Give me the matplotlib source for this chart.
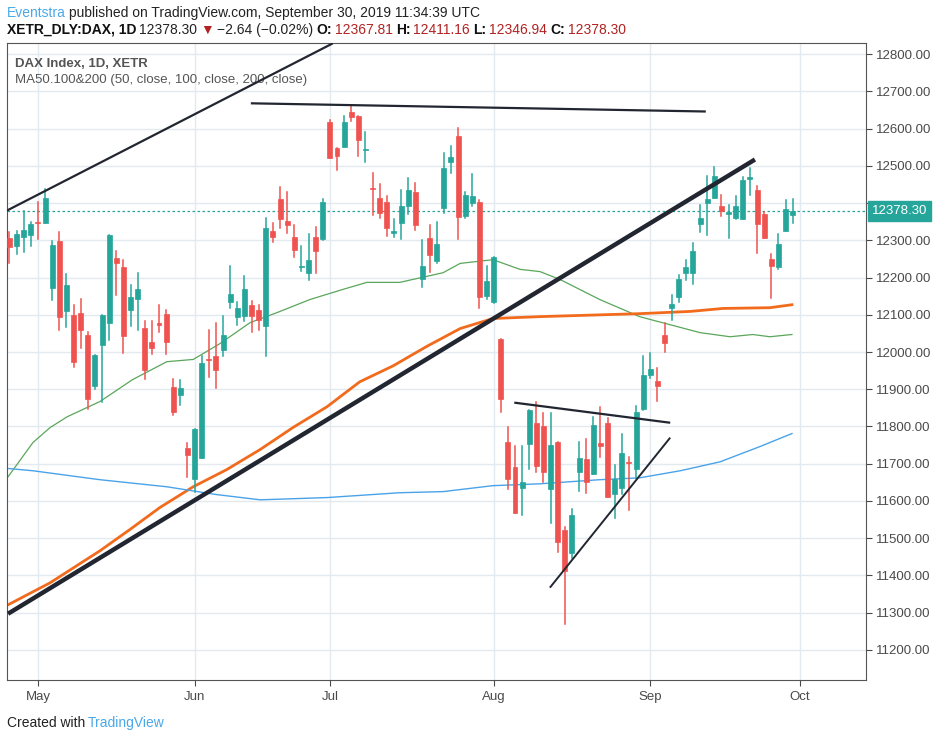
import numpy as np
import matplotlib
matplotlib.use("Agg")
import matplotlib.pyplot as plt
from matplotlib.patches import Rectangle

plt.rcParams["font.family"] = "Liberation Sans"

# daily OHLC, XETR DAX, 25 Apr 2019 .. 30 Sep 2019 (trading-day index 0..110)
opens = [12306, 12284, 12308, 12313, 12350, 12346, 12171, 12299, 12109, 12100,
         12106, 12047, 11908, 12018, 12077, 12253, 12229, 12112, 12142, 12065,
         12028, 12079, 12103, 11907, 11884, 11743, 11660, 11714, 11982, 11990,
         12005, 12134, 12093, 12096, 12125, 12114, 12069, 12324, 12412, 12353,
         12310, 12229, 12212, 12310, 12303, 12619, 12549, 12550, 12646, 12635,
         12543, 12439, 12415, 12404, 12319, 12346, 12392, 12431, 12196, 12305,
         12244, 12386, 12510, 12579, 12365, 12400, 12402, 12150, 12134, 12036,
         11759, 11692, 11636, 11752, 11808, 11802, 11631, 11759, 11523, 11459,
         11679, 11713, 11671, 11756, 11808, 11618, 11636, 11705, 11685, 11848,
         11939, 11923, 12047, 12118, 12147, 12211, 12211, 12343, 12399, 12413,
         12391, 12371, 12361, 12356, 12464, 12434, 12372, 12251, 12227, 12326,
         12367.81]
highs = [12322, 12326, 12378, 12348, 12403, 12438, 12299, 12321, 12210, 12127,
         12143, 12054, 11993, 12100, 12313, 12272, 12248, 12181, 12213, 12084,
         12084, 12127, 12114, 11928, 11926, 11756, 11794, 11988, 12060, 12079,
         12098, 12231, 12134, 12204, 12138, 12127, 12361, 12347, 12442, 12429,
         12342, 12286, 12318, 12337, 12410, 12622, 12549, 12635, 12661, 12635,
         12591, 12480, 12450, 12420, 12356, 12436, 12468, 12455, 12300, 12342,
         12348, 12534, 12552, 12603, 12431, 12477, 12407, 12230, 12256, 12036,
         11799, 11748, 11748, 11845, 11867, 11837, 11837, 11759, 11531, 11579,
         11759, 11765, 11826, 11853, 11824, 11697, 11781, 11719, 11856, 11990,
         11996, 11958, 12078, 12154, 12208, 12246, 12294, 12396, 12474, 12496,
         12423, 12396, 12418, 12469, 12493, 12445, 12377, 12262, 12316, 12407,
         12411.16]
lows = [12239, 12262, 12268, 12284, 12304, 12346, 12139, 12058, 12066, 11959,
        12012, 11847, 11900, 11865, 12031, 12152, 11996, 12069, 12058, 11928,
        11994, 12053, 11994, 11830, 11859, 11663, 11623, 11714, 11932, 11902,
        11989, 12119, 12072, 12083, 12053, 12060, 11989, 12295, 12332, 12319,
        12255, 12217, 12193, 12212, 12300, 12521, 12489, 12550, 12620, 12526,
        12510, 12368, 12360, 12311, 12308, 12303, 12370, 12327, 12174, 12214,
        12238, 12373, 12480, 12303, 12360, 12392, 12118, 12142, 12131, 11838,
        11631, 11567, 11561, 11685, 11677, 11650, 11540, 11462, 11269, 11448,
        11628, 11620, 11671, 11717, 11610, 11553, 11618, 11575, 11661, 11845,
        11931, 11869, 12001, 12085, 12134, 12193, 12182, 12322, 12314, 12413,
        12364, 12306, 12356, 12356, 12421, 12267, 12307, 12144, 12224, 12326,
        12346.94]
closes = [12281, 12318, 12329, 12345, 12346, 12414, 12288, 12094, 12181, 11972,
          12058, 11875, 11993, 12100, 12313, 12238, 12042, 12147, 12170, 11951,
          12010, 12072, 12026, 11838, 11904, 11724, 11794, 11971, 11979, 11952,
          12047, 12157, 12117, 12170, 12096, 12085, 12334, 12308, 12357, 12341,
          12274, 12231, 12248, 12271, 12402, 12521, 12526, 12619, 12631, 12569,
          12546, 12437, 12373, 12333, 12326, 12391, 12434, 12341, 12230, 12260,
          12291, 12493, 12525, 12362, 12423, 12420, 12147, 12192, 12254, 11873,
          11658, 11567, 11651, 11845, 11693, 11679, 11751, 11491, 11411, 11563,
          11716, 11650, 11805, 11747, 11610, 11660, 11730, 11701, 11840, 11939,
          11955, 11910, 12023, 12128, 12195, 12227, 12270, 12361, 12412, 12472,
          12379, 12375, 12391, 12461, 12471, 12343, 12307, 12232, 12291, 12383,
          12378.30]

# moving averages: (bar index, value)
ma50_idx = [-0.2, 3.3, 5.7, 8.1, 12.7, 17.3, 22.1, 25.8, 29.6, 33.8, 37.6, 42.2, 46.8, 50.2,
            54.8, 60.9, 63.3, 67.9, 71.7, 74.5, 77.3, 82.9, 88.5, 97.0, 101.2, 104.4, 106.8, 109.9]
ma50_val = [11665, 11757, 11797, 11826, 11867, 11926, 11974, 11980, 12023, 12079, 12106, 12141, 12168, 12187,
            12187, 12213, 12238, 12248, 12222, 12216, 12195, 12141, 12095, 12052, 12041, 12047, 12041, 12047]
ma100_idx = [-0.2, 5.7, 12.7, 16.9, 21.1, 25.8, 30.5, 35.2, 39.8, 44.6, 49.2, 53.9, 58.6, 63.3,
             67.9, 74.5, 88.5, 95.6, 100.2, 106.8, 109.9]
ma100_val = [11321, 11380, 11466, 11523, 11582, 11638, 11684, 11738, 11797, 11853, 11920, 11963, 12015, 12063,
             12090, 12095, 12103, 12109, 12117, 12119, 12127]
ma200_idx = [-0.1, 3.3, 12.7, 22.1, 29.1, 35.2, 44.6, 54.8, 60.9, 67.9, 74.5, 82.9, 88.5, 94.2,
             99.8, 105.4, 109.9]
ma200_val = [11687, 11681, 11657, 11638, 11617, 11603, 11609, 11622, 11625, 11641, 11646, 11657, 11662, 11681,
             11705, 11746, 11781]

# hand-drawn trendlines: ((idx0, idx1), (val0, val1), width)
trendlines = [
    ((-0.35, 45.4), (12380, 12829), 1.6),
    ((33.9, 97.8), (12668, 12646), 1.6),
    ((-0.2, 104.7), (11297, 12517), 3.2),
    ((70.9, 92.8), (11864, 11810), 1.6),
    ((75.9, 92.8), (11367, 11770), 1.4),
]

month_idx = [4, 26, 45, 68, 90, 111]
month_labels = ["May", "Jun", "Jul", "Aug", "Sep", "Oct"]
yticks = list(range(11200, 12801, 100))
last_price = 12378.30

UP = "#26a69a"
DOWN = "#ef5350"
DARKRED = "#b22222"

fig = plt.figure(figsize=(9.4, 7.42), dpi=100)
ax = fig.add_axes([7 / 940, 62 / 742, 859 / 940, 637 / 742])
ax.set_xlim(-0.35, 120.3)
ax.set_ylim(11119, 12830)

for i in range(len(opens)):
    o, h, l, c = opens[i], highs[i], lows[i], closes[i]
    col = UP if c >= o else DOWN
    ax.plot([i, i], [l, h], color=col, lw=1.1, zorder=3)
    ax.add_patch(Rectangle((i - 0.35, min(o, c)), 0.7, max(abs(c - o), 2.5),
                           facecolor=col, edgecolor=col, lw=0.5, zorder=4))

ax.plot(ma50_idx, ma50_val, color="#5aa65a", lw=0.9, zorder=2)
ax.plot(ma100_idx, ma100_val, color="#f26b1d", lw=2.0, zorder=2)
ax.plot(ma200_idx, ma200_val, color="#4aa3e8", lw=1.0, zorder=2)

for xs, ys, w in trendlines:
    ax.plot(xs, ys, color="#222630", lw=w, zorder=5, solid_capstyle="butt")

ax.axhline(last_price, color=UP, lw=0.9, ls=(0, (2, 2)), zorder=1)

ax.set_xticks(month_idx)
ax.set_xticklabels(month_labels)
ax.set_yticks(yticks)
ax.yaxis.tick_right()
# the 12400 label is hidden behind the last-price tag
ax.set_yticklabels(["" if v == 12400 else f"{v:.2f}" for v in yticks])
ax.tick_params(axis="both", length=4, colors="#4a4a4a", labelsize=9.5)
ax.tick_params(axis="x", pad=4)
ax.grid(True, color="#e2eaf0", lw=1)
ax.set_axisbelow(True)
for side in ax.spines:
    ax.spines[side].set_color("#555555")

ax.text(1.007, last_price, f"{last_price:.2f}", transform=ax.get_yaxis_transform(),
        va="center", ha="left", fontsize=9.5, color="white",
        bbox=dict(boxstyle="square,pad=0.3", fc=UP, ec=UP), zorder=10)

ax.text(0.009, 0.962, "DAX Index, 1D, XETR", transform=ax.transAxes, fontsize=9.5,
        color="#555555", fontweight="bold")
ax.text(0.009, 0.937, "MA50.100&200 (50, close, 100, close, 200, close)", transform=ax.transAxes,
        fontsize=9.5, color="#555555")


def text_row(x_px, y_px, pieces):
    # place coloured pieces one after another along a line
    renderer = fig.canvas.get_renderer()
    x = x_px
    for s, color, weight in pieces:
        t = fig.text(x / 940, 1 - y_px / 742, s, fontsize=10, color=color, fontweight=weight,
                     va="center", ha="left")
        x = x + t.get_window_extent(renderer).width + 3


text_row(7, 13, [("Eventstra", "#4aa8e8", "normal"),
                 ("published on TradingView.com, September 30, 2019 11:34:39 UTC", "#222222", "normal")])
text_row(7, 30, [("XETR_DLY:DAX, 1D", "#111111", "bold"),
                 ("12378.30", "#222222", "normal"),
                 ("\u25bc", DARKRED, "normal"),
                 ("\u22122.64 (\u22120.02%)", "#222222", "normal"),
                 ("O:", "#111111", "bold"), ("12367.81", DARKRED, "normal"),
                 ("H:", "#111111", "bold"), ("12411.16", DARKRED, "normal"),
                 ("L:", "#111111", "bold"), ("12346.94", DARKRED, "normal"),
                 ("C:", "#111111", "bold"), ("12378.30", DARKRED, "normal")])
text_row(7, 723, [("Created with", "#222222", "normal"),
                  ("TradingView", "#4aa8e8", "normal")])

fig.savefig("out.png", dpi=100)
